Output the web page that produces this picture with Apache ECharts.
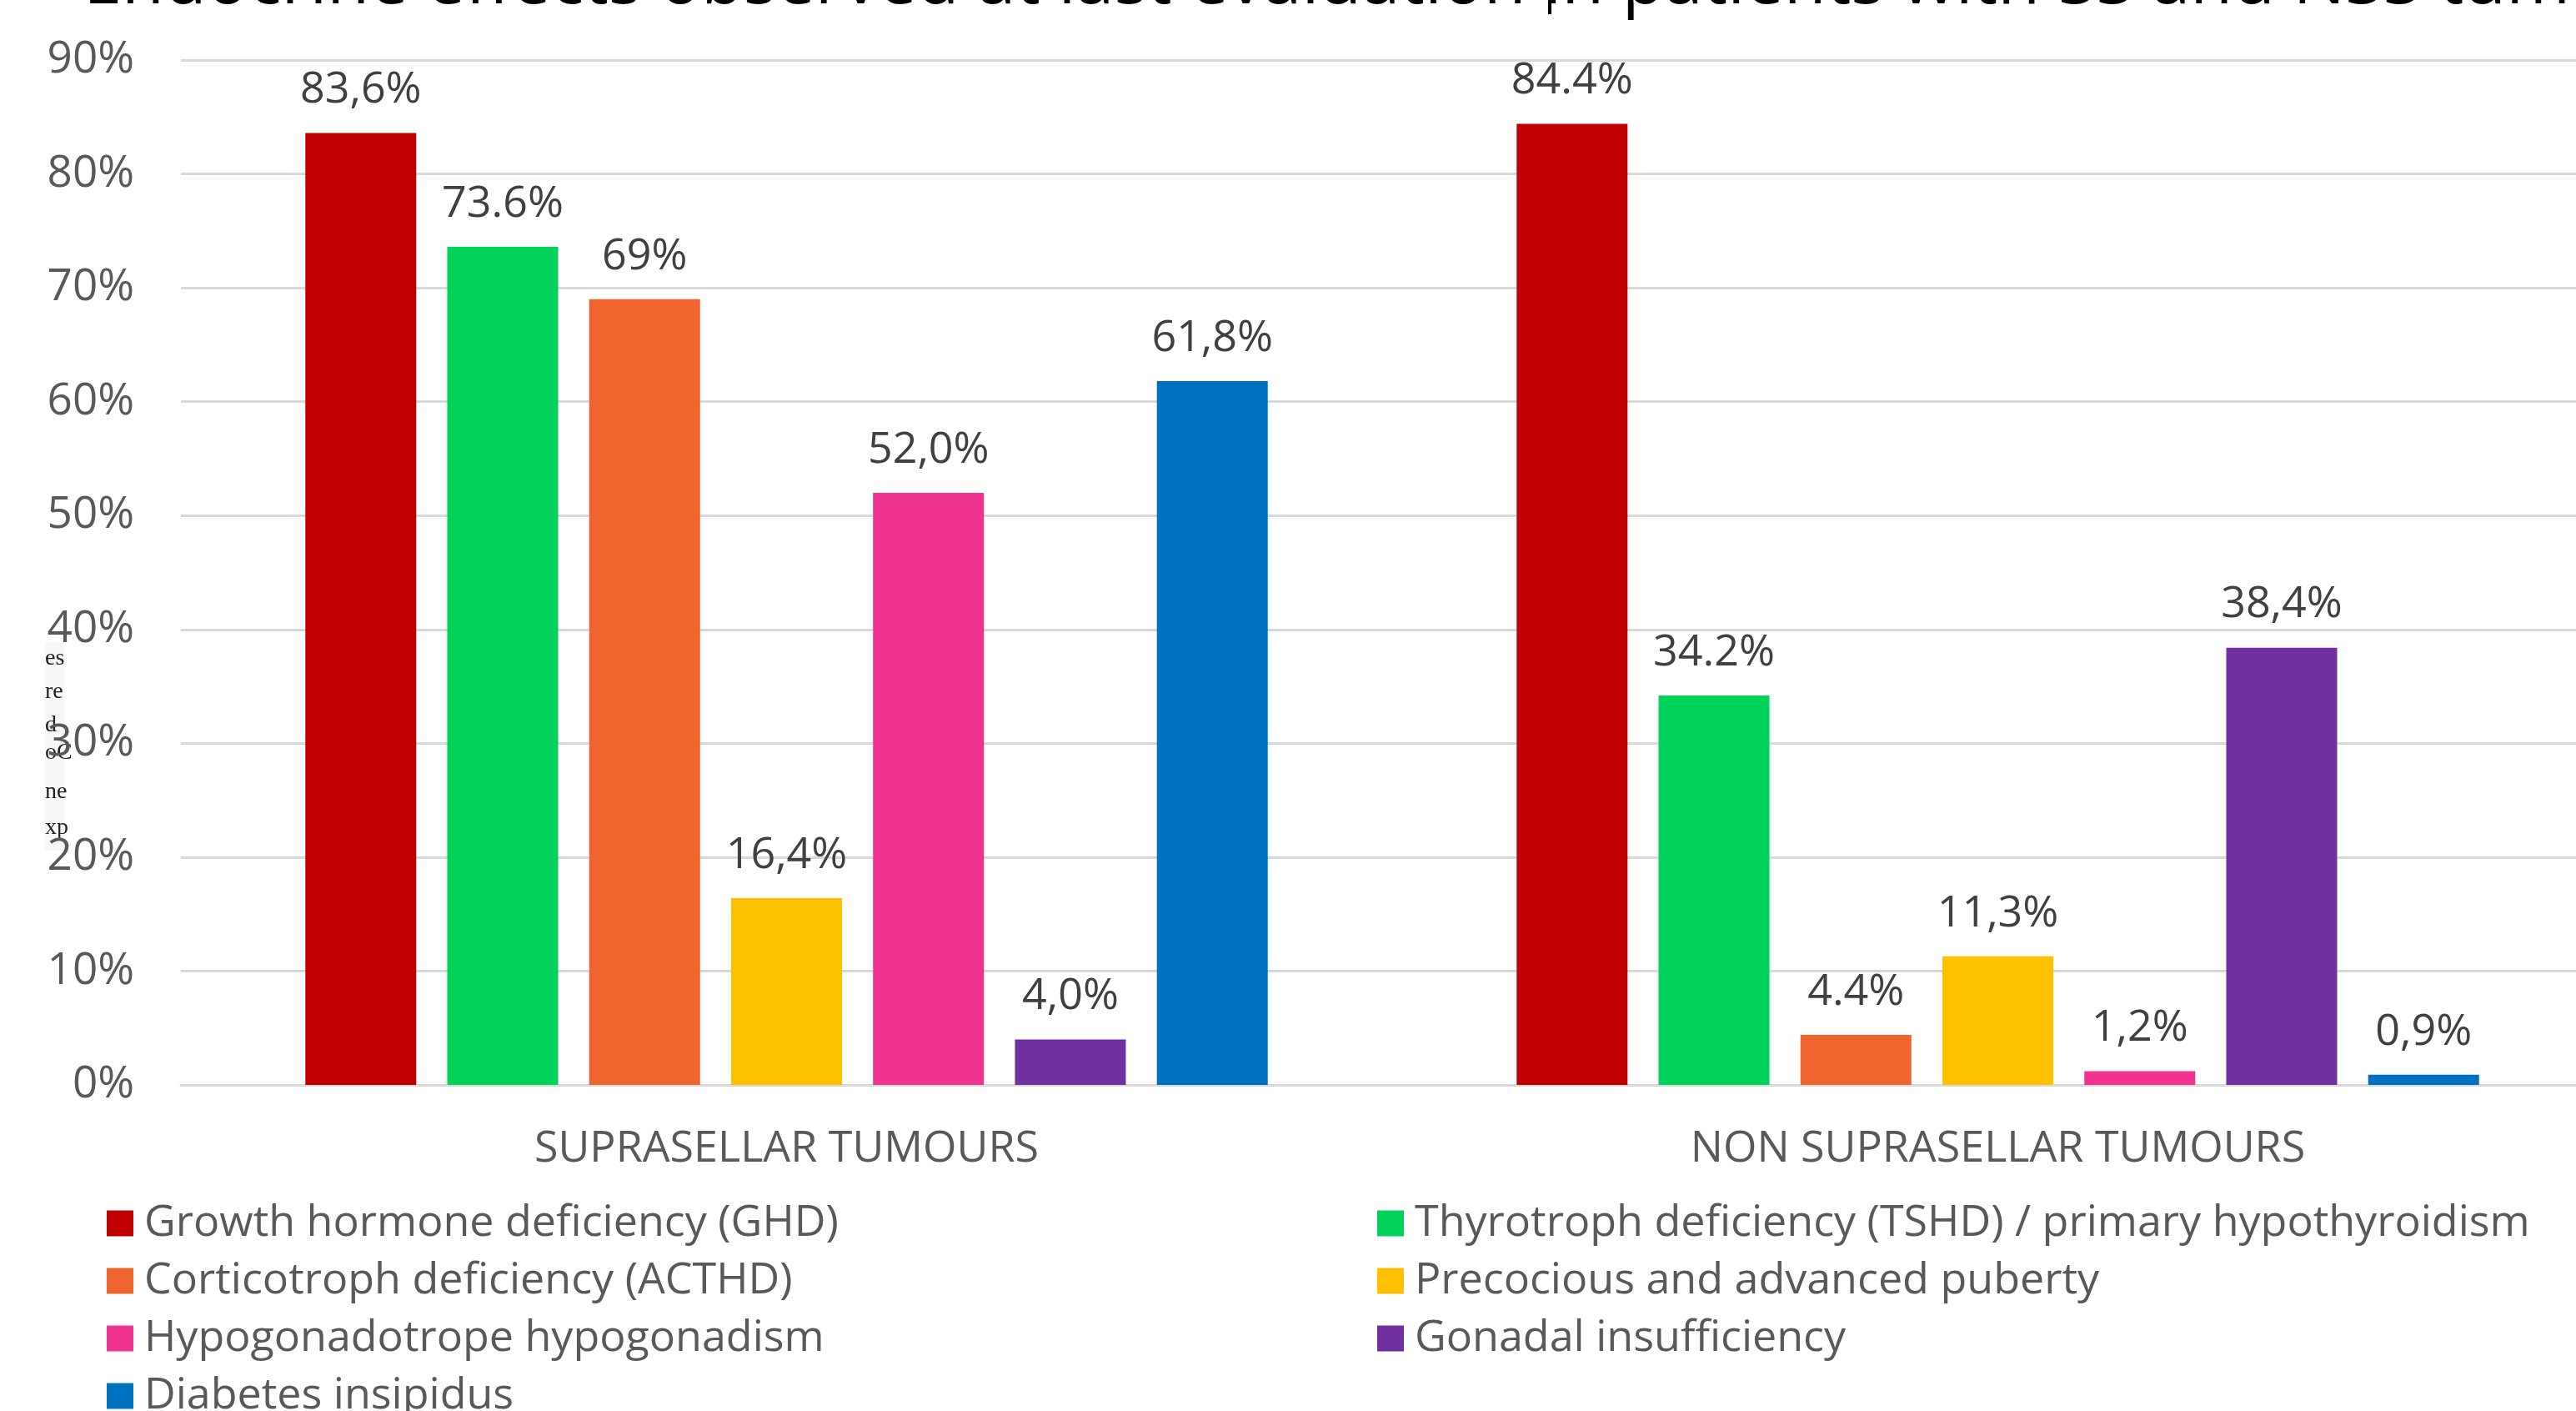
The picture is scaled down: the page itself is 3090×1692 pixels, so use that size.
<!DOCTYPE html>
<html>
<head>
<meta charset="utf-8">
<script src="https://cdn.jsdelivr.net/npm/echarts@6/dist/echarts.min.js"></script>
<style>
  html, body { margin: 0; padding: 0; background: #fff; }
  #chart { width: 3090px; height: 1692px; }
</style>
</head>
<body>
<div id="chart"></div>
<script>
const categories = ['SUPRASELLAR TUMOURS', 'NON SUPRASELLAR TUMOURS']
const yTicks = [0, 10, 20, 30, 40, 50, 60, 70, 80, 90]

const names = [
  'Growth hormone deficiency (GHD)',
  'Thyrotroph deficiency (TSHD) / primary hypothyroidism',
  'Corticotroph deficiency (ACTHD)',
  'Precocious and advanced puberty',
  'Hypogonadotrope hypogonadism',
  'Gonadal insufficiency',
  'Diabetes insipidus'
]
const colors = ['#C00000', '#00D25A', '#F0652E', '#FFC000', '#F0338F', '#7030A0', '#0070C0']

// values per series: [suprasellar, non suprasellar]
const ghd = [83.6, 84.4]
const tshd = [73.6, 34.2]
const acthd = [69, 4.4]
const puberty = [16.4, 11.3]
const hypogonado = [52.0, 1.2]
const gonadal = [4.0, 38.4]
const diabetes = [61.8, 0.9]

// labels exactly as printed on the chart
const ghdLabels = ['83,6%', '84.4%']
const tshdLabels = ['73.6%', '34.2%']
const acthdLabels = ['69%', '4.4%']
const pubertyLabels = ['16,4%', '11,3%']
const hypogonadoLabels = ['52,0%', '1,2%']
const gonadalLabels = ['4,0%', '38,4%']
const diabetesLabels = ['61,8%', '0,9%']

const values = [ghd, tshd, acthd, puberty, hypogonado, gonadal, diabetes]
const labels = [ghdLabels, tshdLabels, acthdLabels, pubertyLabels, hypogonadoLabels, gonadalLabels, diabetesLabels]

const FONT = '"Open Sans", sans-serif'
const chart = echarts.init(document.getElementById('chart'))

const series = names.map((n, i) => ({
  name: n, type: 'bar', data: values[i],
  barWidth: 133, barGap: '28%',
  itemStyle: { color: colors[i] },
  label: {
    show: true, position: 'top', distance: 25,
    color: '#404040', fontFamily: FONT, fontSize: 52,
    formatter: p => labels[i][p.dataIndex]
  }
}))

const legendCommon = {
  orient: 'vertical', icon: 'rect', itemWidth: 32, itemHeight: 31,
  itemGap: 17, padding: 0, height: 400, selectedMode: false,
  textStyle: { color: '#595959', fontFamily: FONT, fontSize: 52, lineHeight: 52, padding: [0, 0, 0, 8] }
}

// fragments of the neighbouring page clipped at the left edge
const fragments = [['es', 790], ['re', 830], ['d', 870], ['oC', 903], ['ne', 950], ['xp', 993]]

chart.setOption({
  animation: false,
  backgroundColor: '#fff',
  grid: { left: 217, top: 72, width: 2906, bottom: 391, outerBoundsMode: 'none' },
  legend: [
    Object.assign({ left: 128, top: 1441, data: [names[0], names[2], names[4], names[6]] }, legendCommon),
    Object.assign({ left: 1652, top: 1441, data: [names[1], names[3], names[5]] }, legendCommon)
  ],
  xAxis: {
    type: 'category', data: categories,
    axisLine: { lineStyle: { color: '#D9D9D9', width: 3 } },
    axisTick: { show: false },
    axisLabel: { color: '#595959', fontFamily: FONT, fontSize: 52, margin: 51 }
  },
  yAxis: {
    type: 'value', min: yTicks[0], max: yTicks[yTicks.length - 1], interval: 10,
    axisLine: { show: false }, axisTick: { show: false },
    splitLine: { lineStyle: { color: '#D9D9D9', width: 3 } },
    axisLabel: { color: '#595959', fontFamily: FONT, fontSize: 53, margin: 56, formatter: '{value}%' }
  },
  series: series,
  graphic: [
    {
      type: 'text', left: 100, top: -61, silent: true,
      style: {
        text: 'Endocrine effects observed at last evaluation in patients with SS and NSS tumours',
        fill: '#000', font: '83px "Open Sans", sans-serif'
      }
    },
    { type: 'rect', shape: { x: 1857, y: 0, width: 4, height: 17 }, style: { fill: '#000' } },
    { type: 'rect', shape: { x: 54, y: 770, width: 23, height: 250 }, style: { fill: '#F7F7F7' } }
  ].concat(fragments.map(f => ({
    type: 'text', x: 54, y: f[1], silent: true,
    style: { text: f[0], fill: '#222', font: '28px "Liberation Serif", serif', verticalAlign: 'middle' }
  })))
})
</script>
</body>
</html>
